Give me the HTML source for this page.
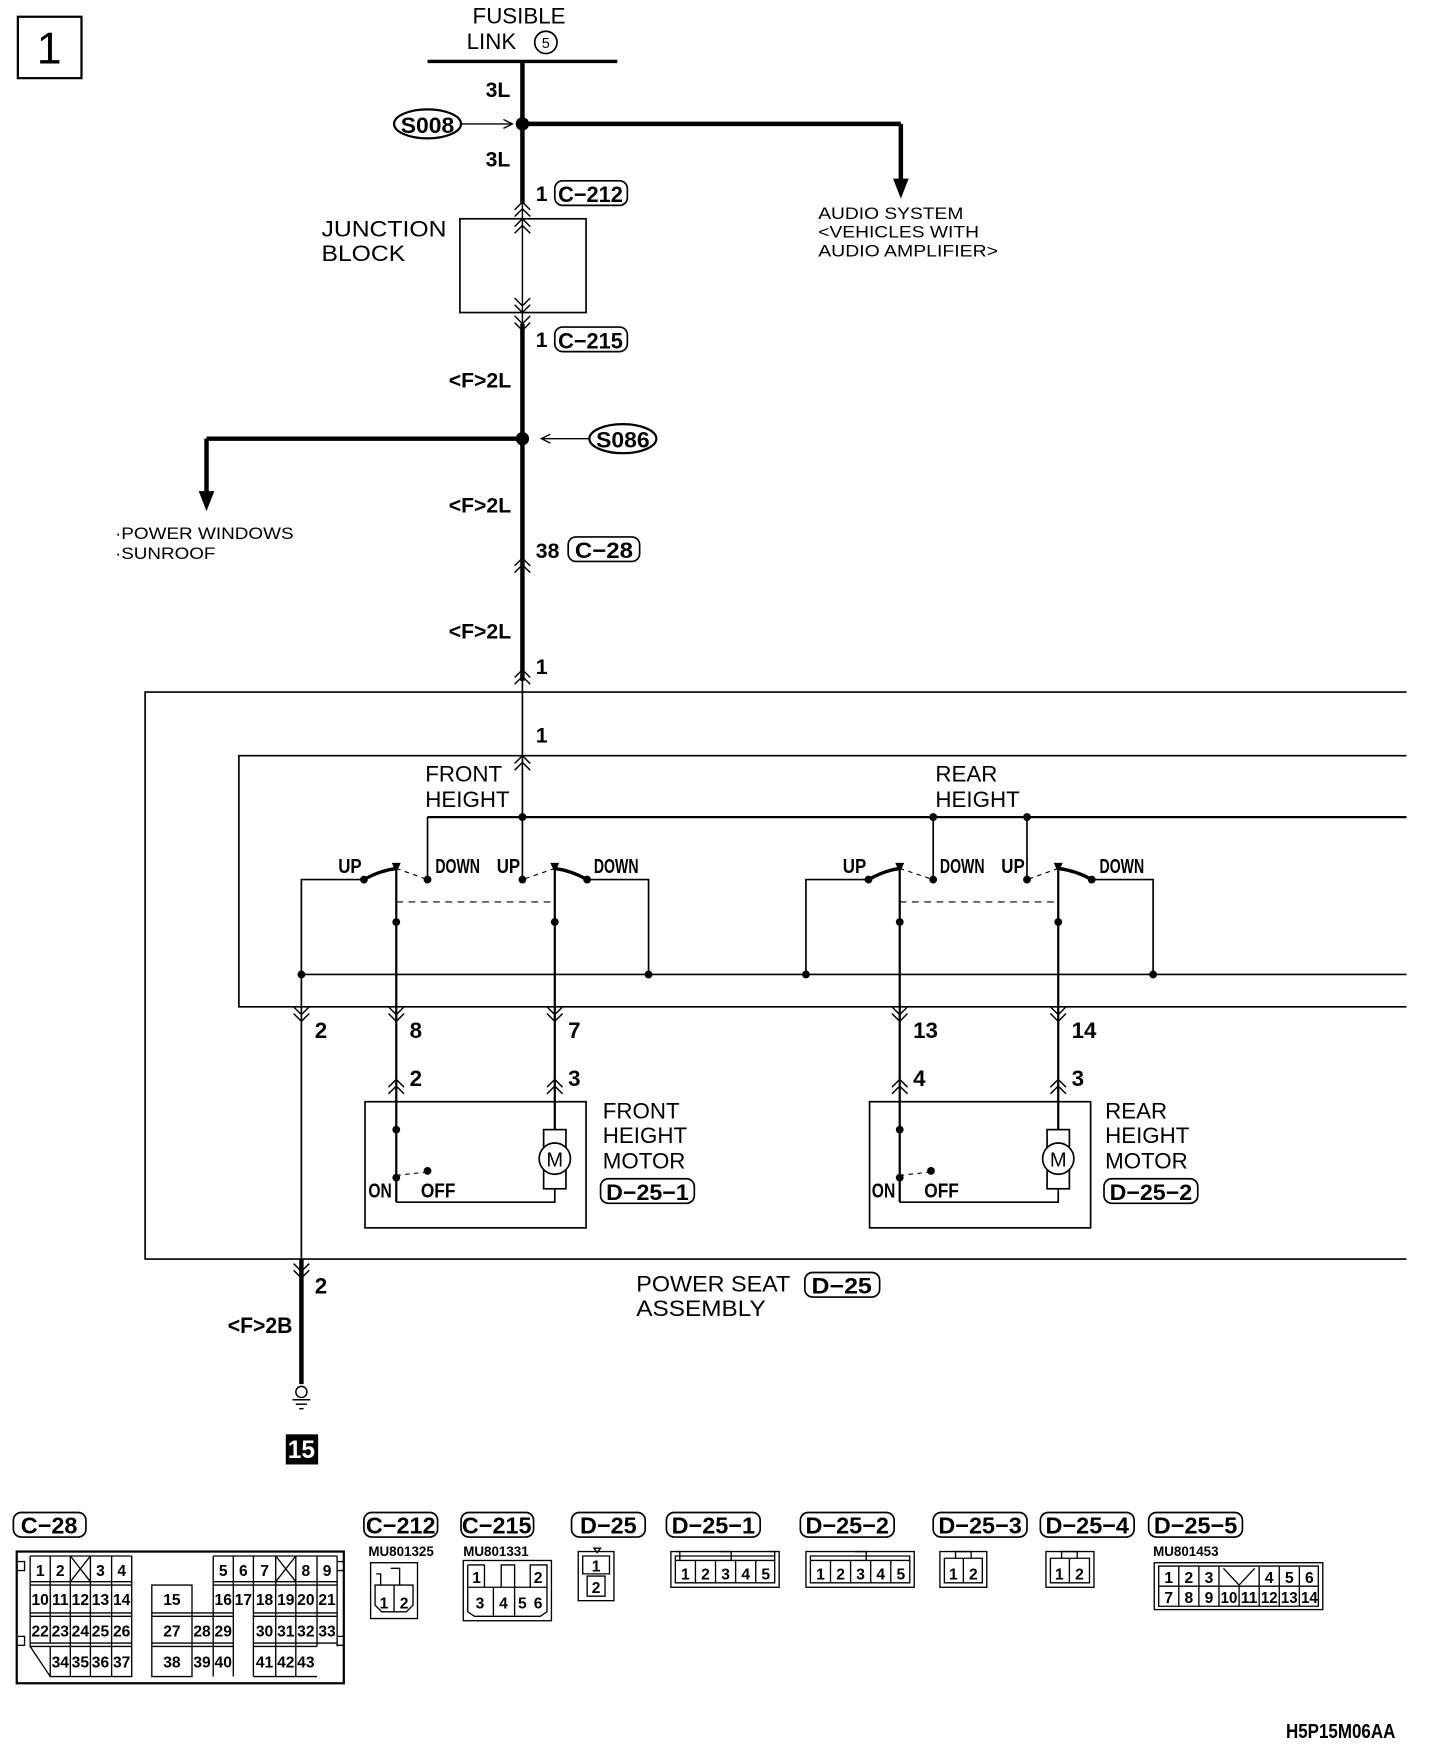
<!DOCTYPE html>
<html><head><meta charset="utf-8"><style>
html,body{margin:0;padding:0;background:#fff;}
svg{display:block;}
text{font-family:"Liberation Sans",sans-serif;fill:#000;}
.n{font-family:"Liberation Sans Narrow","Liberation Sans",sans-serif;font-weight:bold;}
</style></head><body>
<svg width="1440" height="1748" viewBox="0 0 1290 1566" preserveAspectRatio="none" xmlns="http://www.w3.org/2000/svg">
<defs>
<g id="chu"><path d="M-7,7 L0,0 L7,7 M-7,13 L0,6 L7,13" fill="none" stroke="#000" stroke-width="1.3"/></g>
<g id="chd"><path d="M-7,-7 L0,0 L7,-7 M-7,-13 L0,-6 L7,-13" fill="none" stroke="#000" stroke-width="1.3"/></g>
</defs>
<rect x="16" y="15" width="57" height="55" fill="none" stroke="#000" stroke-width="2"/>
<text x="44" y="57" font-size="40" text-anchor="middle">1</text>

<text x="465" y="21" font-size="20" text-anchor="middle">FUSIBLE</text>
<text x="418" y="44" font-size="20">LINK</text>
<circle cx="489" cy="38" r="10" fill="none" stroke="#000" stroke-width="1.5"/>
<text x="489" y="43" font-size="13" text-anchor="middle">5</text>
<line x1="383" y1="55" x2="553" y2="55" stroke="#000" stroke-width="3"/>
<g stroke="#000" fill="none">
<line x1="468" y1="55" x2="468" y2="183" stroke-width="4"/>
<line x1="468" y1="111" x2="807" y2="111" stroke-width="4"/>
<line x1="807" y1="111" x2="807" y2="165" stroke-width="4"/>
<line x1="468" y1="183" x2="468" y2="290" stroke-width="1.3"/>
<line x1="468" y1="290" x2="468" y2="610" stroke-width="4"/>
<line x1="468" y1="393" x2="185" y2="393" stroke-width="4"/>
<line x1="185" y1="393" x2="185" y2="445" stroke-width="4"/>
<line x1="468" y1="607" x2="468" y2="732" stroke-width="1.5"/>
<rect x="412" y="196" width="113" height="84" stroke-width="1.5"/>
<line x1="408" y1="111" x2="458" y2="111" stroke-width="1.2"/>
<path d="M451,107 L459,111 L451,115" stroke-width="1.2"/>
<line x1="485" y1="393" x2="528" y2="393" stroke-width="1.2"/>
<path d="M493,389 L485,393 L493,397" stroke-width="1.2"/>
</g>
<path d="M800,160 L814,160 L807,178 Z"/>
<path d="M178,440 L192,440 L185,458 Z"/>
<circle cx="468" cy="111" r="6"/>
<circle cx="468" cy="393" r="6"/>
<ellipse cx="383" cy="111" rx="30" ry="13" fill="#fff" stroke="#000" stroke-width="2"/>
<text x="383" y="119" font-size="20" class="n" text-anchor="middle" textLength="48" lengthAdjust="spacingAndGlyphs">S008</text>
<ellipse cx="558" cy="393" rx="30" ry="13" fill="#fff" stroke="#000" stroke-width="2"/>
<text x="558" y="401" font-size="20" class="n" text-anchor="middle" textLength="48" lengthAdjust="spacingAndGlyphs">S086</text>
<text x="435" y="87" font-size="19" class="n">3L</text>
<text x="435" y="149" font-size="19" class="n">3L</text>
<use href="#chu" x="468" y="181"/>
<use href="#chu" x="468" y="196"/>
<use href="#chd" x="468" y="280"/>
<use href="#chd" x="468" y="296"/>
<text x="480" y="180" font-size="19" class="n">1</text>
<rect x="497" y="162" width="65" height="22" rx="7" fill="none" stroke="#000" stroke-width="1.5"/>
<text x="529" y="181" font-size="20" class="n" text-anchor="middle" textLength="58" lengthAdjust="spacingAndGlyphs">C−212</text>
<text x="480" y="311" font-size="19" class="n">1</text>
<rect x="497" y="293" width="65" height="22" rx="7" fill="none" stroke="#000" stroke-width="1.5"/>
<text x="529" y="312" font-size="20" class="n" text-anchor="middle" textLength="58" lengthAdjust="spacingAndGlyphs">C−215</text>
<text x="288" y="212" font-size="20" textLength="112" lengthAdjust="spacingAndGlyphs">JUNCTION</text>
<text x="288" y="234" font-size="20" textLength="75" lengthAdjust="spacingAndGlyphs">BLOCK</text>
<text x="733" y="196" font-size="15" textLength="130" lengthAdjust="spacingAndGlyphs">AUDIO SYSTEM</text>
<text x="733" y="213" font-size="15" textLength="144" lengthAdjust="spacingAndGlyphs">&lt;VEHICLES WITH</text>
<text x="733" y="230" font-size="15" textLength="161" lengthAdjust="spacingAndGlyphs">AUDIO AMPLIFIER&gt;</text>
<text x="103" y="483" font-size="15" textLength="160" lengthAdjust="spacingAndGlyphs">·POWER WINDOWS</text>
<text x="103" y="501" font-size="15" textLength="90" lengthAdjust="spacingAndGlyphs">·SUNROOF</text>
<text x="402" y="347" font-size="19" class="n">&lt;F&gt;2L</text>
<text x="402" y="459" font-size="19" class="n">&lt;F&gt;2L</text>
<text x="402" y="572" font-size="19" class="n">&lt;F&gt;2L</text>
<text x="480" y="500" font-size="19" class="n">38</text>
<rect x="509" y="481" width="64" height="22" rx="7" fill="none" stroke="#000" stroke-width="1.5"/>
<text x="541" y="500" font-size="20" class="n" text-anchor="middle" textLength="52" lengthAdjust="spacingAndGlyphs">C−28</text>
<use href="#chu" x="468" y="500"/>
<use href="#chu" x="468" y="600"/>
<text x="480" y="604" font-size="19" class="n">1</text>
<use href="#chu" x="468" y="677"/>
<text x="480" y="665" font-size="19" class="n">1</text>

<g stroke="#000" fill="none" stroke-width="1.5">
<path d="M1260,620 H130 V1128 H1260"/>
<path d="M1260,677 H214 V902 H1260"/>
<line x1="383" y1="732" x2="1260" y2="732" stroke-width="2"/>
<line x1="383" y1="732" x2="383" y2="788"/>
<line x1="468" y1="732" x2="468" y2="788"/>
<line x1="836" y1="732" x2="836" y2="788"/>
<line x1="920" y1="732" x2="920" y2="788"/>
<line x1="270" y1="873" x2="1260" y2="873"/>
<path d="M326,788 H270 V1128"/>
<path d="M526,788 H581 V873"/>
<path d="M778,788 H722 V873"/>
<path d="M978,788 H1033 V873"/>
<line x1="355" y1="780" x2="355" y2="1077" stroke-width="2"/>
<line x1="497" y1="780" x2="497" y2="1012" stroke-width="2"/>
<line x1="806" y1="780" x2="806" y2="1077" stroke-width="2"/>
<line x1="948" y1="780" x2="948" y2="1012" stroke-width="2"/>
<line x1="355" y1="808" x2="497" y2="808" stroke-dasharray="6,5" stroke-width="1"/>
<line x1="806" y1="808" x2="948" y2="808" stroke-dasharray="6,5" stroke-width="1"/>
<path d="M326,788 Q340,780 355,778" stroke-width="3"/>
<path d="M355,778 L383,788" stroke-dasharray="4,4" stroke-width="1"/>
<path d="M526,788 Q512,780 497,778" stroke-width="3"/>
<path d="M497,778 L468,788" stroke-dasharray="4,4" stroke-width="1"/>
<path d="M778,788 Q792,780 806,778" stroke-width="3"/>
<path d="M806,778 L836,788" stroke-dasharray="4,4" stroke-width="1"/>
<path d="M978,788 Q964,780 948,778" stroke-width="3"/>
<path d="M948,778 L920,788" stroke-dasharray="4,4" stroke-width="1"/>
<rect x="327" y="987" width="198" height="113"/>
<rect x="779" y="987" width="198" height="113"/>
<path d="M355,1077 H497 V1065"/>
<path d="M806,1077 H948 V1065"/>
<rect x="487" y="1012" width="20" height="53"/>
<rect x="938" y="1012" width="20" height="53"/>
<line x1="355" y1="1053" x2="383" y2="1050" stroke-dasharray="4,4" stroke-width="1"/>
<line x1="806" y1="1053" x2="834" y2="1050" stroke-dasharray="4,4" stroke-width="1"/>
<line x1="270" y1="1128" x2="270" y2="1240" stroke-width="4"/>
</g>
<circle cx="497" cy="1038" r="14" fill="#fff" stroke="#000" stroke-width="1.5"/>
<text x="497" y="1045" font-size="18" text-anchor="middle">M</text>
<circle cx="948" cy="1038" r="14" fill="#fff" stroke="#000" stroke-width="1.5"/>
<text x="948" y="1045" font-size="18" text-anchor="middle">M</text>
<g>
<circle cx="468" cy="732" r="3.5"/><circle cx="836" cy="732" r="3.5"/><circle cx="920" cy="732" r="3.5"/>
<circle cx="326" cy="788" r="3.5"/><circle cx="383" cy="788" r="3.5"/><circle cx="468" cy="788" r="3.5"/><circle cx="526" cy="788" r="3.5"/>
<circle cx="778" cy="788" r="3.5"/><circle cx="836" cy="788" r="3.5"/><circle cx="920" cy="788" r="3.5"/><circle cx="978" cy="788" r="3.5"/>
<circle cx="355" cy="826" r="3.5"/><circle cx="497" cy="826" r="3.5"/><circle cx="806" cy="826" r="3.5"/><circle cx="948" cy="826" r="3.5"/>
<circle cx="270" cy="873" r="3.5"/><circle cx="581" cy="873" r="3.5"/><circle cx="722" cy="873" r="3.5"/><circle cx="1033" cy="873" r="3.5"/>
<circle cx="355" cy="1012" r="3.5"/><circle cx="806" cy="1012" r="3.5"/>
<circle cx="355" cy="1055" r="3.5"/><circle cx="383" cy="1049" r="3.5"/>
<circle cx="806" cy="1055" r="3.5"/><circle cx="834" cy="1049" r="3.5"/>
<path d="M351,773 L359,773 L355,782Z"/><path d="M493,773 L501,773 L497,782Z"/>
<path d="M802,773 L810,773 L806,782Z"/><path d="M944,773 L952,773 L948,782Z"/>
</g>
<g font-size="18" class="n">
<text x="303" y="782" textLength="21" lengthAdjust="spacingAndGlyphs">UP</text><text x="390" y="782" textLength="40" lengthAdjust="spacingAndGlyphs">DOWN</text><text x="445" y="782" textLength="21" lengthAdjust="spacingAndGlyphs">UP</text><text x="532" y="782" textLength="40" lengthAdjust="spacingAndGlyphs">DOWN</text>
<text x="755" y="782" textLength="21" lengthAdjust="spacingAndGlyphs">UP</text><text x="842" y="782" textLength="40" lengthAdjust="spacingAndGlyphs">DOWN</text><text x="897" y="782" textLength="21" lengthAdjust="spacingAndGlyphs">UP</text><text x="985" y="782" textLength="40" lengthAdjust="spacingAndGlyphs">DOWN</text>
<text x="330" y="1073" textLength="21" lengthAdjust="spacingAndGlyphs">ON</text><text x="377" y="1073" textLength="31" lengthAdjust="spacingAndGlyphs">OFF</text>
<text x="781" y="1073" textLength="21" lengthAdjust="spacingAndGlyphs">ON</text><text x="828" y="1073" textLength="31" lengthAdjust="spacingAndGlyphs">OFF</text>
</g>
<text x="381" y="700" font-size="20">FRONT</text><text x="381" y="723" font-size="20">HEIGHT</text>
<text x="838" y="700" font-size="20">REAR</text><text x="838" y="723" font-size="20">HEIGHT</text>
<use href="#chd" x="270" y="915"/><use href="#chd" x="355" y="915"/><use href="#chd" x="497" y="915"/><use href="#chd" x="806" y="915"/><use href="#chd" x="948" y="915"/>
<g font-size="20" class="n">
<text x="282" y="930">2</text><text x="367" y="930">8</text><text x="509" y="930">7</text><text x="818" y="930">13</text><text x="960" y="930">14</text>
<text x="367" y="973">2</text><text x="509" y="973">3</text><text x="818" y="973">4</text><text x="960" y="973">3</text>
<text x="282" y="1159">2</text><text x="204" y="1194" textLength="58" lengthAdjust="spacingAndGlyphs">&lt;F&gt;2B</text>
</g>
<use href="#chu" x="355" y="967"/><use href="#chu" x="497" y="967"/><use href="#chu" x="806" y="967"/><use href="#chu" x="948" y="967"/>
<use href="#chd" x="270" y="1145"/>
<text x="540" y="1002" font-size="20">FRONT</text><text x="540" y="1024" font-size="20">HEIGHT</text><text x="540" y="1047" font-size="20">MOTOR</text>
<rect x="538" y="1056" width="84" height="22" rx="7" fill="none" stroke="#000" stroke-width="1.5"/>
<text x="580" y="1075" font-size="20" class="n" text-anchor="middle" textLength="74" lengthAdjust="spacingAndGlyphs">D−25−1</text>
<text x="990" y="1002" font-size="20">REAR</text><text x="990" y="1024" font-size="20">HEIGHT</text><text x="990" y="1047" font-size="20">MOTOR</text>
<rect x="989" y="1056" width="84" height="22" rx="7" fill="none" stroke="#000" stroke-width="1.5"/>
<text x="1031" y="1075" font-size="20" class="n" text-anchor="middle" textLength="74" lengthAdjust="spacingAndGlyphs">D−25−2</text>
<text x="570" y="1157" font-size="20" textLength="138" lengthAdjust="spacingAndGlyphs">POWER SEAT</text><text x="570" y="1179" font-size="20" textLength="116" lengthAdjust="spacingAndGlyphs">ASSEMBLY</text>
<rect x="721" y="1140" width="67" height="22" rx="7" fill="none" stroke="#000" stroke-width="1.5"/>
<text x="754" y="1159" font-size="20" class="n" text-anchor="middle" textLength="54" lengthAdjust="spacingAndGlyphs">D−25</text>
<g stroke="#000" fill="none" stroke-width="1.3">
<circle cx="270" cy="1247" r="5"/>
<line x1="262" y1="1254" x2="278" y2="1254"/><line x1="265" y1="1258" x2="275" y2="1258"/><line x1="268" y1="1262" x2="272" y2="1262"/>
</g>
<rect x="256" y="1285" width="29" height="27"/>
<text x="270" y="1306" font-size="22" class="n" text-anchor="middle" style="fill:#fff">15</text>

<g stroke="#000" fill="none" stroke-width="1.5">
<rect x="12" y="1355" width="65" height="22" rx="7"/>
<rect x="326" y="1355" width="66" height="22" rx="7"/>
<rect x="413" y="1355" width="65" height="22" rx="7"/>
<rect x="512" y="1355" width="66" height="22" rx="7"/>
<rect x="597" y="1355" width="84" height="22" rx="7"/>
<rect x="717" y="1355" width="84" height="22" rx="7"/>
<rect x="836" y="1355" width="84" height="22" rx="7"/>
<rect x="932" y="1355" width="84" height="22" rx="7"/>
<rect x="1029" y="1355" width="84" height="22" rx="7"/>
</g>
<g font-size="21" class="n" text-anchor="middle">
<text x="44" y="1374">C−28</text><text x="359" y="1374">C−212</text><text x="445" y="1374">C−215</text><text x="545" y="1374">D−25</text>
<text x="639" y="1374">D−25−1</text><text x="759" y="1374">D−25−2</text><text x="878" y="1374">D−25−3</text><text x="974" y="1374">D−25−4</text><text x="1071" y="1374">D−25−5</text>
</g>
<g font-size="12" class="n">
<text x="330" y="1394">MU801325</text><text x="415" y="1394">MU801331</text><text x="1033" y="1394">MU801453</text>
<text x="1152" y="1557" font-size="18" textLength="98" lengthAdjust="spacingAndGlyphs">H5P15M06AA</text>
</g>

<g stroke="#000" fill="none" stroke-width="1.2">
<rect x="15" y="1390" width="293" height="118" stroke-width="2"/>
<path d="M27,1394 H118 M27,1394 V1475 L45,1502 M45,1475 V1502 H118 V1394 M45,1394 V1472 M63,1394 V1502 M81,1394 V1502 M100,1394 V1502 M27,1417 H118 M27,1420 H118 M27,1445 H118 M27,1448 H118 M27,1472 H118 M27,1475 H118 M63,1394 L81,1417 M81,1394 L63,1417"/>
<path d="M136,1420 H172 V1502 H136 Z M136,1445 H209 M136,1448 H209 M136,1472 H209 M136,1475 H209 M172,1445 V1502 M191,1445 V1502 M209,1394 V1502 M191,1394 V1445 M191,1394 H302 M191,1417 H302 M191,1420 H302 M227,1394 V1502 M247,1394 V1502 M265,1394 V1502 M284,1394 V1475 M302,1394 V1475 M227,1445 H302 M227,1448 H302 M227,1472 H302 M227,1475 H284 M227,1502 H284 M247,1394 L265,1417 M265,1394 L247,1417 M16,1399 h6 v8 h-6 M302,1399 h6 v8 h-6 M16,1466 h6 v8 h-6 M302,1466 h6 v8 h-6"/>
</g>
<g font-size="14" class="n" text-anchor="middle">
<text x="36" y="1412">1</text><text x="54" y="1412">2</text><text x="90" y="1412">3</text><text x="109" y="1412">4</text>
<text x="36" y="1438">10</text><text x="54" y="1438">11</text><text x="72" y="1438">12</text><text x="90" y="1438">13</text><text x="109" y="1438">14</text>
<text x="36" y="1466">22</text><text x="54" y="1466">23</text><text x="72" y="1466">24</text><text x="90" y="1466">25</text><text x="109" y="1466">26</text>
<text x="54" y="1494">34</text><text x="72" y="1494">35</text><text x="90" y="1494">36</text><text x="109" y="1494">37</text>
<text x="154" y="1438">15</text><text x="154" y="1466">27</text><text x="181" y="1466">28</text><text x="200" y="1466">29</text>
<text x="154" y="1494">38</text><text x="181" y="1494">39</text><text x="200" y="1494">40</text>
<text x="200" y="1412">5</text><text x="218" y="1412">6</text><text x="237" y="1412">7</text><text x="274" y="1412">8</text><text x="293" y="1412">9</text>
<text x="200" y="1438">16</text><text x="218" y="1438">17</text><text x="237" y="1438">18</text><text x="256" y="1438">19</text><text x="274" y="1438">20</text><text x="293" y="1438">21</text>
<text x="237" y="1466">30</text><text x="256" y="1466">31</text><text x="274" y="1466">32</text><text x="293" y="1466">33</text>
<text x="237" y="1494">41</text><text x="256" y="1494">42</text><text x="274" y="1494">43</text>
</g>
<g stroke="#000" fill="none" stroke-width="1.2">
<rect x="332" y="1400" width="42" height="50"/>
<path d="M336,1420 H370 V1438 L364,1444 H342 L336,1438 Z M353,1420 V1444 M350,1405 h8 v15 M337,1410 h4 v10"/>
<rect x="415" y="1398" width="79" height="54"/>
<path d="M419,1402 H434 V1422 M475,1422 V1402 H490 V1422 M419,1402 V1444 L425,1448 H484 L490,1444 V1422 M419,1422 H490 M442,1422 V1448 M461,1422 V1448 M449,1422 V1402 h12 v20"/>
<rect x="518" y="1390" width="32" height="44"/>
<path d="M522,1394 H546 V1410 H522 Z M526,1412 H542 V1430 H526 Z"/>
<path d="M532,1387 h6 l-3,4z"/>
<rect x="601" y="1390" width="97" height="32"/>
<path d="M605,1394 H694 V1418 H605 Z M623,1398 V1418 M641,1398 V1418 M659,1398 V1418 M677,1398 V1418 M605,1398 H694 M645,1390 h10 v8 M605,1390 h4 v8 M690,1390 h4 v8"/>
<rect x="722" y="1390" width="97" height="32"/>
<path d="M726,1394 H815 V1418 H726 Z M744,1398 V1418 M762,1398 V1418 M780,1398 V1418 M798,1398 V1418 M726,1398 H815 M766,1390 h10 v8"/>
<rect x="842" y="1390" width="42" height="32"/>
<path d="M846,1396 H880 V1418 H846 Z M863,1396 V1418 M856,1396 V1390 h14 v6"/>
<rect x="937" y="1390" width="43" height="32"/>
<path d="M941,1396 H976 V1418 H941 Z M958,1396 V1418 M951,1396 V1390 h14 v6"/>
<rect x="1034" y="1400" width="151" height="42"/>
<path d="M1038,1403 H1181 V1439 H1038 Z M1038,1421 H1181 M1056,1403 V1439 M1074,1403 V1439 M1092,1403 V1439 M1110,1421 V1439 M1128,1403 V1439 M1146,1403 V1439 M1164,1403 V1439 M1096,1405 L1110,1420 L1124,1405"/>
</g>
<g font-size="14" class="n" text-anchor="middle">
<text x="344" y="1441">1</text><text x="362" y="1441">2</text>
<text x="427" y="1418">1</text><text x="482" y="1418">2</text>
<text x="430" y="1441">3</text><text x="451" y="1441">4</text><text x="468" y="1441">5</text><text x="482" y="1441">6</text>
<text x="534" y="1408">1</text><text x="534" y="1427">2</text>
<text x="614" y="1415">1</text><text x="632" y="1415">2</text><text x="650" y="1415">3</text><text x="668" y="1415">4</text><text x="686" y="1415">5</text>
<text x="735" y="1415">1</text><text x="753" y="1415">2</text><text x="771" y="1415">3</text><text x="789" y="1415">4</text><text x="807" y="1415">5</text>
<text x="854" y="1415">1</text><text x="872" y="1415">2</text>
<text x="949" y="1415">1</text><text x="967" y="1415">2</text>
<text x="1047" y="1418">1</text><text x="1065" y="1418">2</text><text x="1083" y="1418">3</text><text x="1137" y="1418">4</text><text x="1155" y="1418">5</text><text x="1173" y="1418">6</text>
<text x="1047" y="1436">7</text><text x="1065" y="1436">8</text><text x="1083" y="1436">9</text>
<text x="1101" y="1436" textLength="15" lengthAdjust="spacingAndGlyphs">10</text><text x="1119" y="1436" textLength="15" lengthAdjust="spacingAndGlyphs">11</text><text x="1137" y="1436" textLength="15" lengthAdjust="spacingAndGlyphs">12</text><text x="1155" y="1436" textLength="15" lengthAdjust="spacingAndGlyphs">13</text><text x="1173" y="1436" textLength="15" lengthAdjust="spacingAndGlyphs">14</text>
</g>
</svg>
</body></html>
